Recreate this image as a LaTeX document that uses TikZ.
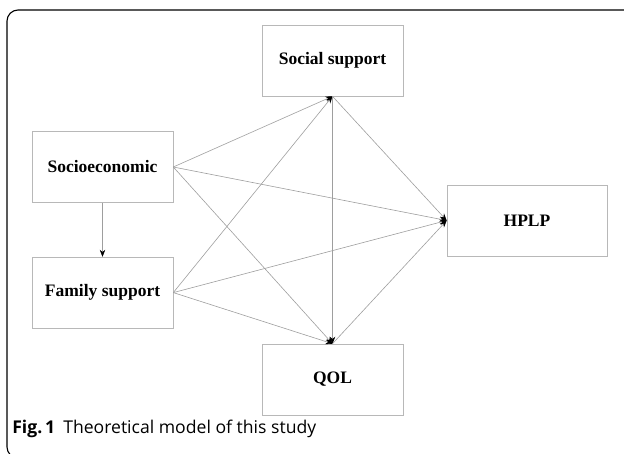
\documentclass[tikz,border=0pt]{standalone}
\usepackage{fontspec}
\setmainfont{Liberation Serif}
\newfontfamily\captionfont{Open Sans}
\usepackage{tikz}
\usetikzlibrary{arrows.meta, positioning}
\colorlet{colorBox}{black!28}
\colorlet{colorPath}{black!38}
\tikzset{var/.style={draw=colorBox, minimum width=141pt, minimum height=71pt, inner sep=0pt, font=\bfseries\fontsize{17.5}{17.5}\selectfont}}

\begin{document}
\begin{tikzpicture}[x=1pt, y=-1pt, >={Stealth[length=7pt, width=5.5pt, black]}, line width=0.6pt]
\useasboundingbox (0,0) rectangle (624,453);
% outer frame, cut by the page edge
\begin{scope}
\clip (0,0) rectangle (624,453);
\draw[black, line width=1.1pt, rounded corners=11pt] (7,10) rectangle (700,458);
\end{scope}
\node[var] (soc) at (102.5,167) {Socioeconomic};
\node[var, below=54pt of soc] (fam) {Family support};
\node[var] (sso) at (332.5,60.5) {Social support};
\node[var] (qol) at (332.5,379.5) {QOL};
\node[var, minimum width=160pt] (hplp) at (527,220.5) {HPLP};
\draw[->, colorPath] (soc) -- (fam);
\draw[->, colorPath] (soc.east) -- (sso.south);
\draw[->, colorPath] (soc.east) -- (hplp.west);
\draw[->, colorPath] (soc.east) -- (qol.north);
\draw[->, colorPath] (fam.east) -- (sso.south);
\draw[->, colorPath] (fam.east) -- (hplp.west);
\draw[->, colorPath] (fam.east) -- (qol.north);
\draw[->, colorPath] (sso.south) -- (hplp.west);
\draw[->, colorPath] (sso.south) -- (qol.north);
\draw[->, colorPath] (qol.north) -- (hplp.west);
\node[anchor=base west, inner sep=0pt, font=\captionfont\fontsize{17.6}{17.6}\selectfont] (cap) at (12,433) {\textbf{Fig.\,1}\hspace{8pt}Theoretical model of this study};
\end{tikzpicture}
\end{document}
